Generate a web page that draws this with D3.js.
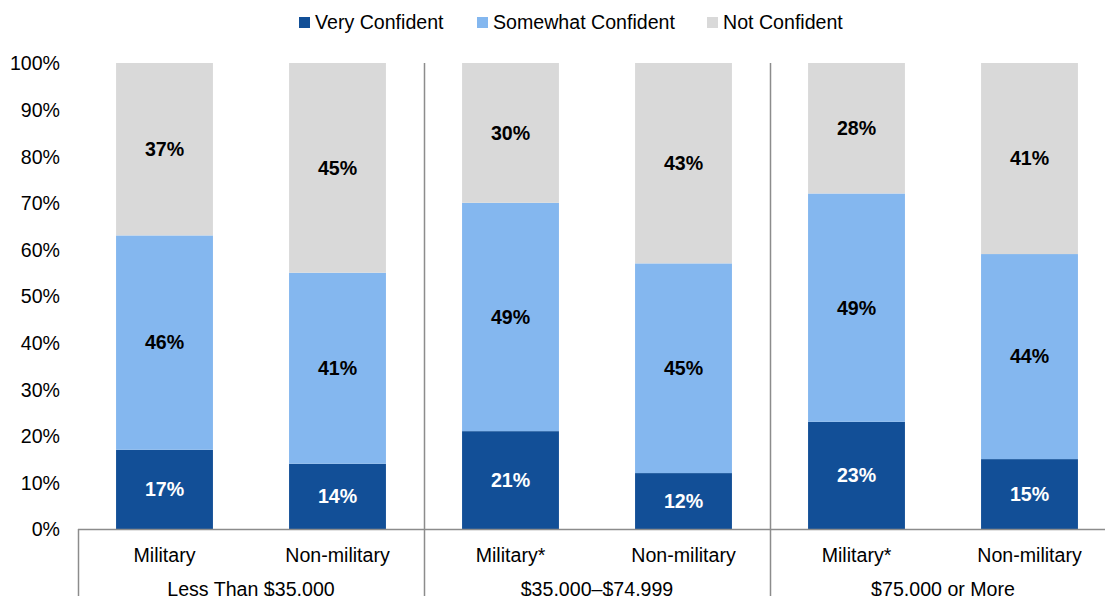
<!DOCTYPE html>
<html lang="en">
<head>
<meta charset="UTF-8">
<title>Confidence by income and military status</title>
<script src="https://d3js.org/d3.v7.min.js"></script>
<style>
  body { margin: 0; background: #fff; }
  svg { display: block; font-family: 'Liberation Sans', Arial, sans-serif; }
  .tick text { font-size: 19.6px; fill: #000; }
  .label { font-size: 19.6px; font-weight: bold; }
</style>
</head>
<body>
<svg id="chart" width="1105" height="596"></svg>
<script>
// data
const categories = ["Military", "Non-military", "Military*", "Non-military", "Military*", "Non-military"];
const groups = ["Less Than $35,000", "$35,000\u2013$74,999", "$75,000 or More"];
const series = ["Very Confident", "Somewhat Confident", "Not Confident"];
const veryConfident = [17, 14, 21, 12, 23, 15];
const somewhatConfident = [46, 41, 49, 45, 49, 44];
const notConfident = [37, 45, 30, 43, 28, 41];
const yTicks = [0, 10, 20, 30, 40, 50, 60, 70, 80, 90, 100];

const colors = ["#124f97", "#84b7ef", "#d9d9d9"];
const labelColors = ["#fff", "#000", "#000"];
const fontSize = 19.6;

const svg = d3.select("#chart");
const plotLeft = 78, plotRight = 1116, plotTop = 63, plotBottom = 529;

const rows = categories.map((c, i) => ({
  key: i, cat: c,
  "Very Confident": veryConfident[i],
  "Somewhat Confident": somewhatConfident[i],
  "Not Confident": notConfident[i]
}));

const x = d3.scaleBand()
  .domain(d3.range(categories.length))
  .range([plotLeft, plotRight])
  .paddingInner(0.44)
  .paddingOuter(0.22);

const y = d3.scaleLinear().domain([0, 100]).range([plotBottom, plotTop]);

const stack = d3.stack().keys(series)(rows);

// y axis
const yAxis = d3.axisLeft(y)
  .tickValues(yTicks)
  .tickSize(0)
  .tickPadding(0)
  .tickFormat(d => d + "%");
const yg = svg.append("g").attr("transform", "translate(60,0)").call(yAxis);
yg.select(".domain").remove();
yg.selectAll("text").attr("dy", "0.35em");

// bars
stack.forEach((layer, li) => {
  const g = svg.append("g");
  g.selectAll("rect").data(layer).enter().append("rect")
    .attr("x", d => x(d.data.key))
    .attr("width", x.bandwidth())
    .attr("y", d => y(d[1]))
    .attr("height", d => y(d[0]) - y(d[1]))
    .attr("fill", colors[li]);
  g.selectAll("text").data(layer).enter().append("text")
    .attr("class", "label")
    .attr("x", d => x(d.data.key) + x.bandwidth() / 2)
    .attr("y", d => y((d[0] + d[1]) / 2))
    .attr("dy", "0.35em")
    .attr("text-anchor", "middle")
    .attr("fill", labelColors[li])
    .text(d => (d[1] - d[0]) + "%");
});

// axis lines and group separators
const line = "#8c8c8c";
svg.append("line").attr("x1", plotLeft).attr("x2", plotRight).attr("y1", plotBottom + 0.5).attr("y2", plotBottom + 0.5)
  .attr("stroke", line).attr("stroke-width", 1.5);
svg.append("line").attr("x1", plotLeft + 0.5).attr("x2", plotLeft + 0.5).attr("y1", plotBottom).attr("y2", 596)
  .attr("stroke", line).attr("stroke-width", 1.5);
const step = x.step();
[2, 4].forEach(k => {
  const sx = Math.round(plotLeft + k * step) + 0.5;
  svg.append("line").attr("x1", sx).attr("x2", sx).attr("y1", plotTop).attr("y2", 596)
    .attr("stroke", line).attr("stroke-width", 1.5);
});

// category labels
svg.append("g").selectAll("text").data(categories).enter().append("text")
  .attr("x", (d, i) => x(i) + x.bandwidth() / 2)
  .attr("y", 562)
  .attr("text-anchor", "middle")
  .attr("font-size", fontSize)
  .text(d => d);

// group labels (cut by the bottom edge, as in the original)
svg.append("g").selectAll("text").data(groups).enter().append("text")
  .attr("x", (d, i) => plotLeft + step * (2 * i + 1))
  .attr("y", 596)
  .attr("text-anchor", "middle")
  .attr("font-size", fontSize)
  .text(d => d);

// legend
const legendX = [299, 477, 707];
const lg = svg.append("g").selectAll("g").data(series).enter().append("g")
  .attr("transform", (d, i) => `translate(${legendX[i]},0)`);
lg.append("rect").attr("x", 0).attr("y", 17).attr("width", 11).attr("height", 11)
  .attr("fill", (d, i) => colors[i]);
lg.append("text").attr("x", 16).attr("y", 29).attr("font-size", fontSize).text(d => d);
</script>
</body>
</html>
